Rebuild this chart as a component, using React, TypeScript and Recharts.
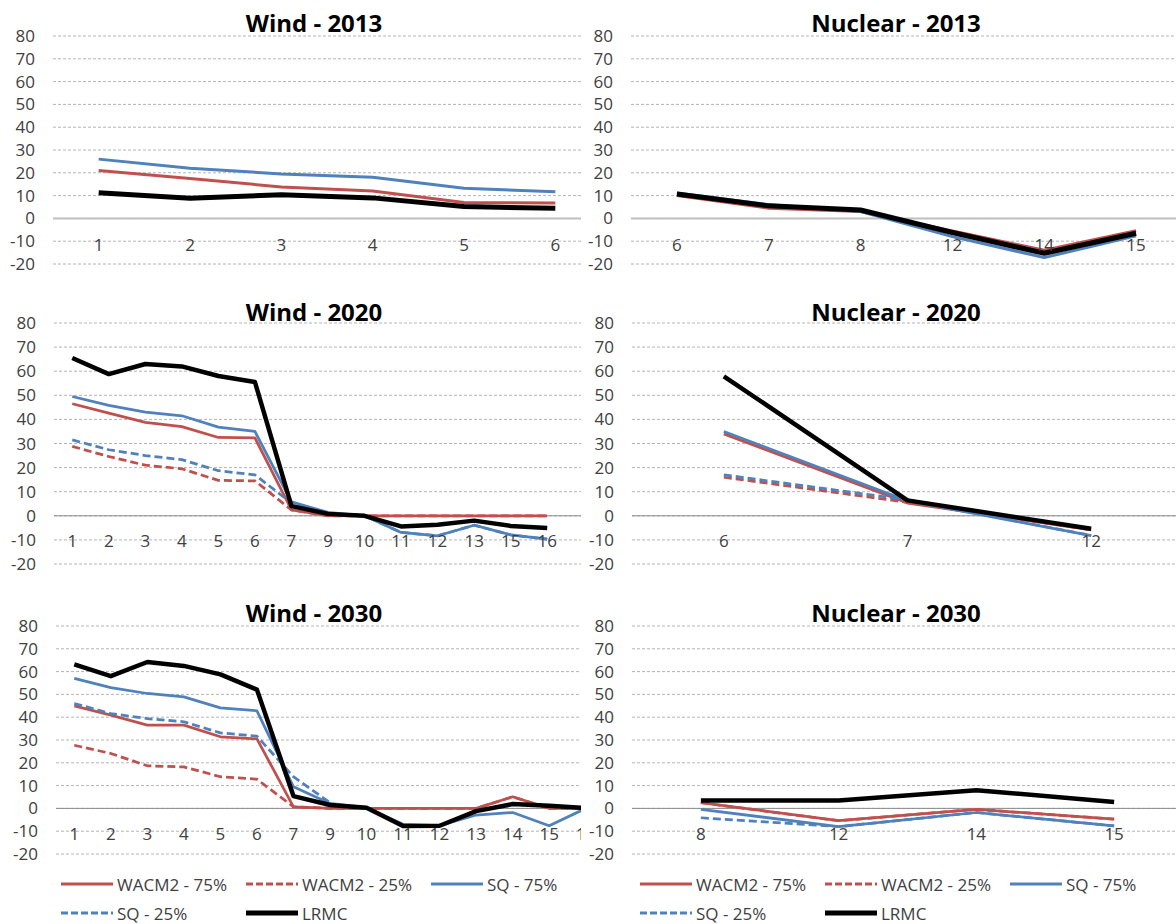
import React from 'react';
import { ComposedChart, Line, XAxis, YAxis, CartesianGrid, ReferenceLine } from 'recharts';

const RED = '#C0504D';
const BLUE = '#4F81BD';
const BLACK = '#000000';
const TEXT = '#404040';
const FONT = '"Open Sans", "Liberation Sans", sans-serif';

const Y_TICKS = [-20, -10, 0, 10, 20, 30, 40, 50, 60, 70, 80];

// Wind - 2013
const wind2013Cats = ['1', '2', '3', '4', '5', '6'];
const wind2013Wacm75 = [21, 17.5, 13.8, 12, 7, 6.8];
const wind2013Sq75 = [26, 22, 19.5, 18, 13.2, 11.7];
const wind2013Lrmc = [11.3, 8.8, 10.4, 9, 5.2, 4.4];

// Nuclear - 2013
const nuc2013Cats = ['6', '7', '8', '12', '14', '15'];
const nuc2013Wacm75 = [10, 4.5, 3, -5.5, -14, -5.4];
const nuc2013Sq75 = [11.2, 6, 3, -8, -17.2, -7.6];
const nuc2013Lrmc = [10.7, 5.5, 3.7, -6.2, -15.3, -6.5];

// Wind - 2020 (last category is empty)
const wind2020Cats = ['1', '2', '3', '4', '5', '6', '7', '9', '10', '11', '12', '13', '15', '16', ''];
const wind2020Wacm75 = [46.5, 42.6, 38.8, 37, 32.5, 32.3, 2.5, 0.1, 0, 0, 0, 0, 0, 0];
const wind2020Wacm25 = [28.8, 24.6, 21, 19.5, 14.7, 14.5, 2.4, 0, 0, 0, 0, 0, 0, 0];
const wind2020Sq75 = [49.5, 45.8, 43, 41.5, 36.8, 35, 5.8, 1.4, 0, -6.9, -8.3, -3.9, -7.9, -9.7];
const wind2020Sq25 = [31.5, 27.4, 25, 23.3, 18.7, 17, 5.3, 1.2, 0, -6.9, -8.3, -3.9, -7.9, -9.7];
const wind2020Lrmc = [65.5, 58.8, 63, 62, 58, 55.5, 4, 0.8, 0, -4.4, -3.7, -2, -4.2, -5.1];

// Nuclear - 2020
const nuc2020Cats = ['6', '7', '12'];
const nuc2020Wacm75 = [34, 5.3, -5.8];
const nuc2020Wacm25 = [16, 5.6, -5.8];
const nuc2020Sq75 = [35, 6.2, -8.2];
const nuc2020Sq25 = [17, 6.6, -8.2];
const nuc2020Lrmc = [57.9, 6.4, -5.4];

// Wind - 2030
const wind2030Cats = ['1', '2', '3', '4', '5', '6', '7', '9', '10', '11', '12', '13', '14', '15', '16'];
const wind2030Wacm75 = [45, 40.9, 36.5, 36.5, 31.4, 30.5, 0.7, 0, 0, 0, 0, 0, 5.1, 0, 0];
const wind2030Wacm25 = [27.7, 24.1, 18.7, 18.2, 13.9, 12.8, 0.7, 0, 0, 0, 0, 0, 5.1, 0, 0];
const wind2030Sq75 = [57, 53, 50.4, 48.9, 44.1, 42.8, 9.5, 2.2, 0.3, -7, -7.6, -2.9, -1.8, -7.6, 0];
const wind2030Sq25 = [46, 41.6, 39.4, 38, 33.1, 31.7, 13.9, 2.5];
const wind2030Lrmc = [63.2, 58, 64.2, 62.5, 58.8, 52.1, 5.4, 1.5, 0.3, -7.7, -7.6, -1.2, 1.9, 1.2, 0.1];

// Nuclear - 2030
const nuc2030Cats = ['8', '12', '14', '15'];
const nuc2030Wacm75 = [2.5, -5.4, -0.4, -4.7];
const nuc2030Wacm25 = [2.5, -5.4, -0.4, -4.7];
const nuc2030Sq75 = [-0.4, -8, -1.8, -7.7];
const nuc2030Sq25 = [-4.1, -8, -1.8, -7.7];
const nuc2030Lrmc = [3.5, 3.5, 8, 2.8];

const SERIES = [
  { key: 'wacm75', name: 'WACM2 - 75%', color: RED, dash: undefined, black: false },
  { key: 'wacm25', name: 'WACM2 - 25%', color: RED, dash: '8 4', black: false },
  { key: 'sq75', name: 'SQ - 75%', color: BLUE, dash: undefined, black: false },
  { key: 'sq25', name: 'SQ - 25%', color: BLUE, dash: '8 4', black: false },
  { key: 'lrmc', name: 'LRMC', color: BLACK, dash: undefined, black: true },
];

type Vals = { [k: string]: number[] | undefined };

const build = (cats: string[], vals: Vals) =>
  cats.map((c, i) => {
    const row: any = { cat: c };
    Object.keys(vals).forEach((k) => {
      const arr = vals[k];
      row[k] = arr && i < arr.length ? arr[i] : null;
    });
    return row;
  });

const ROWS = [
  { top: 0, plotTop: 36, plotH: 228, zero: '#c0c0c0', zeroW: 2, gap: 26, title: 23, thin: 3, thick: 5 },
  { top: 290, plotTop: 33, plotH: 241, zero: '#8c8c8c', zeroW: 1, gap: 25, title: 312, thin: 2.75, thick: 4.5 },
  { top: 590, plotTop: 36, plotH: 228, zero: '#8c8c8c', zeroW: 1, gap: 25, title: 613, thin: 2.75, thick: 4.5 },
];

const PANELS = [
  { row: 0, side: 'wind', title: 'Wind - 2013', cats: wind2013Cats, vals: { wacm75: wind2013Wacm75, sq75: wind2013Sq75, lrmc: wind2013Lrmc } },
  { row: 0, side: 'nuc', title: 'Nuclear - 2013', cats: nuc2013Cats, vals: { wacm75: nuc2013Wacm75, sq75: nuc2013Sq75, lrmc: nuc2013Lrmc } },
  { row: 1, side: 'wind', title: 'Wind - 2020', cats: wind2020Cats, vals: { wacm75: wind2020Wacm75, wacm25: wind2020Wacm25, sq75: wind2020Sq75, sq25: wind2020Sq25, lrmc: wind2020Lrmc } },
  { row: 1, side: 'nuc', title: 'Nuclear - 2020', cats: nuc2020Cats, vals: { wacm75: nuc2020Wacm75, wacm25: nuc2020Wacm25, sq75: nuc2020Sq75, sq25: nuc2020Sq25, lrmc: nuc2020Lrmc } },
  { row: 2, side: 'wind', title: 'Wind - 2030', cats: wind2030Cats, vals: { wacm75: wind2030Wacm75, wacm25: wind2030Wacm25, sq75: wind2030Sq75, sq25: wind2030Sq25, lrmc: wind2030Lrmc } },
  { row: 2, side: 'nuc', title: 'Nuclear - 2030', cats: nuc2030Cats, vals: { wacm75: nuc2030Wacm75, wacm25: nuc2030Wacm25, sq75: nuc2030Sq75, sq25: nuc2030Sq25, lrmc: nuc2030Lrmc } },
];

const SIDES: any = {
  wind: { left: 0, clip: 581, axisW: [53, 54, 56], plotW: 548, titleX: 314 },
  nuc: { left: 582, clip: 594, axisW: [49, 50, 50], plotW: 551, titleX: 896 },
};

const makeTick = (shift: number) => (props: any) => {
  const { x, y, payload } = props;
  return (
    <text x={x} y={y - shift} textAnchor="middle" dominantBaseline="central" fontSize={17} fill={TEXT} fontFamily={FONT}>
      {payload.value}
    </text>
  );
};

const Panel = ({ p }: { p: any }) => {
  const r = ROWS[p.row];
  const s = SIDES[p.side];
  const axisW = s.axisW[p.row];
  const data = build(p.cats, p.vals);
  const xAxisH = 30;
  const height = r.plotTop + r.plotH + xAxisH;
  const width = axisW + s.plotW + 10;
  const shift = r.plotH * 0.2 - r.gap;
  // categories sit between tick marks, as in the original spreadsheet chart
  const half = s.plotW / (2 * p.cats.length);
  return (
    <>
      <div style={{ position: 'absolute', left: s.left, top: r.top, width: s.clip, height, overflow: 'hidden', background: '#fff' }}>
        <ComposedChart width={width} height={height} data={data} margin={{ top: r.plotTop, right: 10, bottom: 0, left: 0 }}>
          <CartesianGrid vertical={false} stroke="#b4b4b4" strokeDasharray="3 2" />
          <XAxis
            dataKey="cat"
            interval={0}
            axisLine={false}
            tickLine={false}
            tickSize={0}
            tickMargin={0}
            height={xAxisH}
            padding={{ left: half, right: half }}
            tick={makeTick(shift)}
          />
          <YAxis
            domain={[-20, 80]}
            ticks={Y_TICKS}
            interval={0}
            width={axisW}
            axisLine={false}
            tickLine={false}
            tickSize={0}
            tickMargin={18}
            tick={{ fontSize: 17, fill: TEXT, fontFamily: FONT }}
          />
          <ReferenceLine y={0} stroke={r.zero} strokeWidth={r.zeroW} />
          {SERIES.filter((se) => p.vals[se.key]).map((se) => (
            <Line
              key={se.key}
              dataKey={se.key}
              name={se.name}
              stroke={se.color}
              strokeWidth={se.black ? r.thick : r.thin}
              strokeDasharray={se.dash}
              dot={false}
              activeDot={false}
              isAnimationActive={false}
              strokeLinejoin="round"
            />
          ))}
        </ComposedChart>
      </div>
      <div
        style={{
          position: 'absolute',
          left: s.titleX - 200,
          top: r.title - 16,
          width: 400,
          height: 32,
          lineHeight: '32px',
          textAlign: 'center',
          fontFamily: FONT,
          fontWeight: 700,
          fontSize: 24,
          color: '#000',
        }}
      >
        {p.title}
      </div>
    </>
  );
};

const LEGEND_ROWS = [
  [SERIES[0], SERIES[1], SERIES[2]],
  [SERIES[3], SERIES[4]],
];

const LegendBlock = ({ left }: { left: number }) => (
  <>
    {LEGEND_ROWS.map((row, ri) =>
      row.map((se, ci) => (
        <div
          key={se.key}
          style={{
            position: 'absolute',
            left: left + ci * 185,
            top: 884 + ri * 29 - 12,
            height: 24,
            display: 'flex',
            alignItems: 'center',
            whiteSpace: 'nowrap',
            fontFamily: FONT,
            fontSize: 17,
            color: TEXT,
          }}
        >
          <svg width={54} height={10} style={{ marginRight: 3 }}>
            <line x1={1} y1={5} x2={53} y2={5} stroke={se.color} strokeWidth={se.black ? 5 : 3} strokeDasharray={se.dash ? '7 3' : undefined} />
          </svg>
          <span>{se.name}</span>
        </div>
      ))
    )}
  </>
);

export default function App() {
  return (
    <div style={{ position: 'absolute', left: 0, top: 0, width: 1176, height: 924, overflow: 'hidden', background: '#fff' }}>
      {PANELS.map((p) => (
        <Panel key={p.title} p={p} />
      ))}
      <LegendBlock left={60} />
      <LegendBlock left={639} />
    </div>
  );
}
